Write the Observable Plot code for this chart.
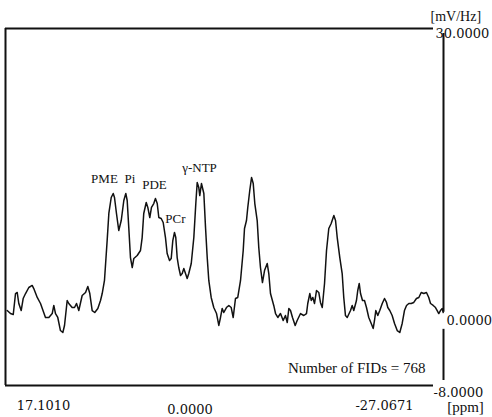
<!DOCTYPE html>
<html>
<head>
<meta charset="utf-8">
<script src="https://cdn.jsdelivr.net/npm/d3@7"></script>
<script src="https://cdn.jsdelivr.net/npm/@observablehq/plot@0.6"></script>
<style>
  html, body { margin: 0; padding: 0; background: #fff; }
  svg { display: block; }
</style>
</head>
<body>
<div id="chart"></div>
<script>
// Chemical shift (ppm) and signal (mV/Hz)
const ppm = [16.93,16.60,16.32,16.09,15.92,15.76,15.52,15.32,15.08,14.75,14.41,14.25,13.90,13.57,13.07,12.73,12.39,12.23,12.06,11.83,11.56,11.32,11.15,10.88,10.72,10.38,10.14,9.94,9.71,9.37,9.03,8.80,8.60,8.36,8.10,7.79,7.52,7.35,7.12,6.85,
  6.68,6.44,6.24,6.11,5.91,5.68,5.43,5.17,4.97,4.83,4.67,4.50,4.32,4.16,3.82,3.49,3.32,3.16,2.91,2.75,2.55,2.38,2.15,1.98,1.80,1.64,1.40,1.20,0.97,0.80,0.56,0.39,0.23,0.06,-0.07,-0.21,-0.37,-0.55,-0.72,-0.88,-1.05,-1.22,-1.38,-1.63,-1.89,-2.09,-2.23,-2.39,-2.49,-2.66,-2.90,
  -3.07,-3.24,-3.40,-3.64,-3.90,-4.18,-4.41,-4.58,-4.75,-4.91,-5.18,-5.42,-5.66,-5.86,-6.09,-6.32,-6.60,-6.87,-7.00,-7.20,-7.33,-7.53,-7.71,-7.88,-8.04,-8.28,-8.44,-8.61,-8.81,-9.02,-9.29,-9.45,-9.62,-9.95,-10.13,-10.36,-10.63,-10.90,-11.13,-11.31,-11.47,-11.64,-11.84,-12.11,-12.31,-12.65,-12.98,-13.25,
  -13.38,-13.59,-13.73,-13.89,-14.06,-14.26,-14.49,-14.66,-14.84,-15.07,-15.27,-15.50,-15.74,-16.01,-16.18,-16.35,-16.61,-16.85,-17.01,-17.18,-17.36,-17.69,-17.86,-18.02,-18.29,-18.42,-18.57,-18.70,-18.90,-19.10,-19.30,-19.53,-19.78,-19.98,-20.11,-20.24,-20.44,-20.64,-20.89,-21.12,-21.32,-21.45,-21.65,-21.89,-22.13,-22.40,-22.66,-22.90,-23.13,-23.34,-23.57,-23.81,-24.07,-24.34,-24.58,-24.82,-25.08,-25.35,-25.58,-25.76,-26.03,-26.26,-26.43,-26.59,-26.76,-26.94,-27.04];
const mv = [-0.02,-0.34,-0.44,1.79,1.90,0.73,-0.02,1.26,1.79,2.43,2.65,2.32,1.37,0.73,-0.76,-0.76,-0.34,0.52,-0.34,-0.76,-2.15,-2.36,-1.61,1.05,0.73,0.30,0.30,0.73,-0.02,1.58,1.90,2.54,1.79,-0.02,-0.23,0.20,1.05,1.79,3.18,7.43,
  10.31,12.01,12.44,12.01,10.31,8.50,9.56,11.69,12.44,11.69,8.82,5.62,4.56,5.52,5.84,6.37,7.75,10.31,11.48,10.95,9.88,10.95,11.37,11.90,11.37,9.88,9.78,9.35,7.75,6.05,5.30,5.52,7.43,8.29,7.75,5.62,4.56,3.71,3.92,4.46,3.92,3.39,3.92,4.99,7.75,11.37,13.61,13.08,12.22,13.50,12.44,
  8.82,5.62,3.18,1.37,0.30,-0.34,-1.61,-0.76,0.20,-0.23,0.30,0.52,0.30,-0.76,1.26,1.37,3.18,6.37,8.71,9.56,10.95,12.76,14.14,13.50,11.37,9.56,6.69,4.56,2.96,4.24,4.99,3.92,1.79,0.52,-0.34,-0.76,-0.34,-1.08,-0.55,-1.29,0.20,-0.02,-0.76,-1.61,-1.08,-0.34,-0.55,-0.34,
  0.73,1.79,1.05,1.37,0.73,2.11,1.90,0.84,0.30,2.86,6.37,8.71,9.24,10.10,9.56,7.75,5.62,3.92,1.37,-0.55,-0.76,-0.02,0.52,-0.02,1.05,2.11,2.86,1.79,1.05,1.05,0.30,-0.76,-1.40,-1.93,-1.08,-0.02,-0.55,-0.02,0.73,1.26,0.84,0.30,-0.02,-0.55,-1.40,-2.15,-2.36,-1.40,-0.02,0.52,0.73,0.73,0.84,1.26,1.37,1.90,1.79,1.90,1.37,0.73,0.52,0.30,-0.02,-0.34,-0.02,0.20,-0.23];

// Peak annotations
const peakNames = ["PME", "Pi", "PDE", "PCr", "γ-NTP"];
const peakPpm = [7.12, 4.55, 2.08, -0.04, -2.46];
const peakMv = [14.03, 14.03, 13.4, 9.78, 15.2];

// Axis extents and labels
const xLeft = 17.1010, xRight = -27.0671;
const yTop = 30, yZero = 0, yBottom = -8;
const xTickLabels = ["17.1010", "0.0000", "-27.0671"];
const yTickLabels = ["30.0000", "0.0000", "-8.0000"];
const xUnit = "[ppm]";
const yUnit = "[mV/Hz]";
const note = "Number of FIDs = 768";

const spectrum = ppm.map((p, i) => ({ppm: p, mv: mv[i]}));
const peaks = peakNames.map((n, i) => ({name: n, ppm: peakPpm[i], mv: peakMv[i]}));

const serif = "Liberation Serif, Times New Roman, serif";
const numFont = "DejaVu Serif, serif";

function lbl(text, x, y, opts) {
  return Plot.text([{t: text, x, y}], Object.assign({x: "x", y: "y", text: "t", fill: "#111", stroke: null}, opts));
}

const chart = Plot.plot({
  width: 492,
  height: 417,
  marginLeft: 5,
  marginRight: 49,
  marginTop: 28,
  marginBottom: 32,
  x: {domain: [xLeft, xRight], axis: null},
  y: {domain: [yBottom, yTop], axis: null},
  style: {background: "#fff"},
  marks: [
    // box lines
    Plot.ruleY([yTop, yBottom], {stroke: "#111", strokeWidth: 2, insetRight: 10}),
    Plot.ruleX([xLeft], {stroke: "#111", strokeWidth: 2}),
    // right vertical axis with gap for zero label
    Plot.ruleX([{x: xRight, y1: yTop, y2: yZero}], {x: "x", y1: "y1", y2: "y2", stroke: "#111", strokeWidth: 2, insetTop: 5, insetBottom: -2}),
    Plot.ruleX([{x: xRight, y1: yZero, y2: yBottom}], {x: "x", y1: "y1", y2: "y2", stroke: "#111", strokeWidth: 2, insetTop: 19, insetBottom: 5}),
    // spectrum
    Plot.line(spectrum, {x: "ppm", y: "mv", stroke: "#111", strokeWidth: 1.5, strokeLinejoin: "round"}),
    // peak labels
    Plot.text(peaks, {x: "ppm", y: "mv", text: "name", fontFamily: serif, fontSize: 13, fill: "#111"}),
    // y tick labels (right)
    lbl(yUnit, xRight, yTop, {textAnchor: "start", dx: -13, dy: -12, fontFamily: serif, fontSize: 14}),
    lbl(yTickLabels[0], xRight, yTop, {textAnchor: "start", dx: -8, dy: 5, fontFamily: numFont, fontSize: 13}),
    lbl(yTickLabels[1], xRight, yZero, {textAnchor: "start", dx: 3, dy: 10, fontFamily: numFont, fontSize: 13}),
    lbl(yTickLabels[2], xRight, yBottom, {textAnchor: "start", dx: -10, dy: 7, fontFamily: numFont, fontSize: 13}),
    // x tick labels (bottom)
    lbl(xTickLabels[0], xLeft, yBottom, {textAnchor: "middle", dx: 38, dy: 20, fontFamily: numFont, fontSize: 13}),
    lbl(xTickLabels[1], 0, yBottom, {textAnchor: "middle", dx: 15, dy: 24, fontFamily: numFont, fontSize: 13}),
    lbl(xTickLabels[2], xRight, yBottom, {textAnchor: "middle", dx: -59, dy: 20, fontFamily: numFont, fontSize: 13}),
    lbl(xUnit, xRight, yBottom, {textAnchor: "middle", dx: 22, dy: 22, fontFamily: serif, fontSize: 15}),
    // note
    lbl(note, xRight, yBottom, {textAnchor: "end", dx: -18, dy: -17, fontFamily: serif, fontSize: 15})
  ]
});
document.getElementById("chart").appendChild(chart);
</script>
</body>
</html>
